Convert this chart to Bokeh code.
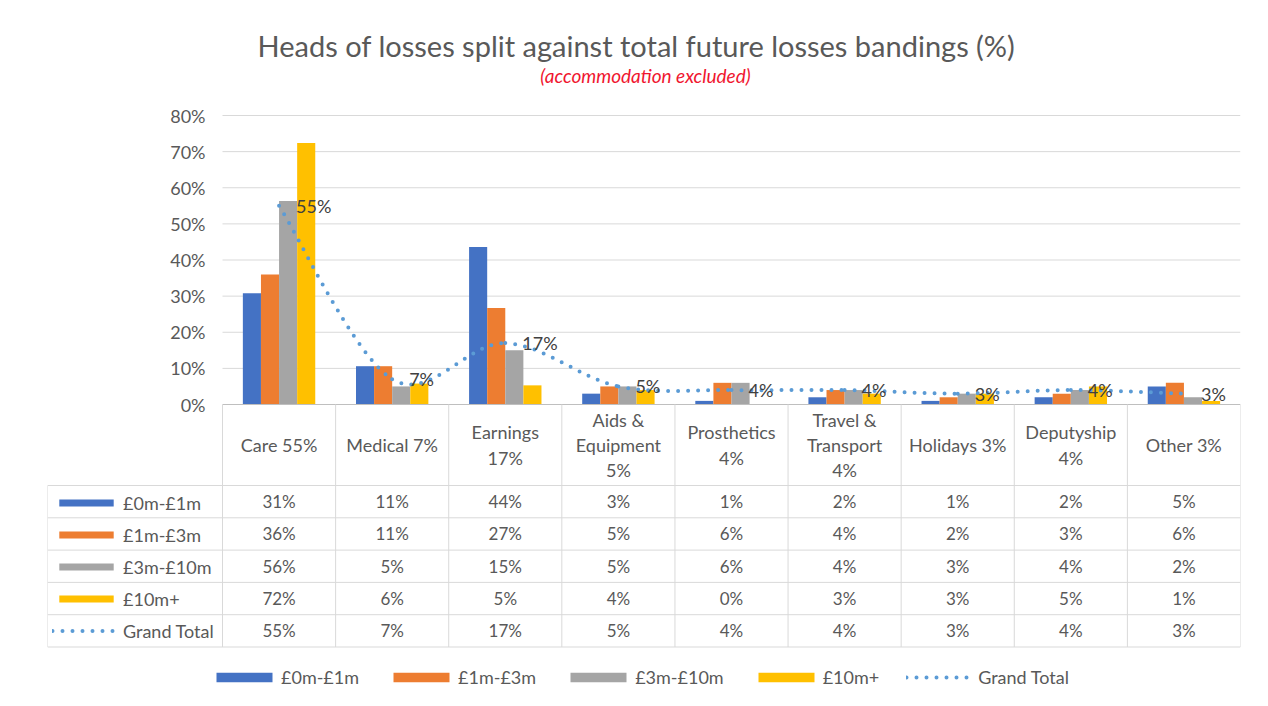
from bokeh.plotting import figure
from bokeh.models import (Range1d, LinearAxis, FixedTicker, PrintfTickFormatter,
                          Legend, LegendItem, Label)
from bokeh.core.properties import value
from bokeh.embed import file_html
from bokeh.resources import INLINE

# ---------------- data ----------------
categories = ["Care", "Medical", "Earnings", "Aids & Equipment", "Prosthetics",
              "Travel & Transport", "Holidays", "Deputyship", "Other"]
header_labels = ["Care 55%", "Medical 7%", "Earnings\n17%", "Aids &\nEquipment\n5%",
                 "Prosthetics\n4%", "Travel &\nTransport\n4%", "Holidays 3%",
                 "Deputyship\n4%", "Other 3%"]
series_names = ["£0m-£1m", "£1m-£3m", "£3m-£10m", "£10m+"]
band_0m_1m = [30.8, 10.6, 43.6, 3, 1, 2, 1, 2, 5]
band_1m_3m = [36.0, 10.6, 26.7, 5, 6, 4, 2, 3, 6]
band_3m_10m = [56.3, 5.0, 15.0, 5, 6, 4, 3, 4, 2]
band_10m_plus = [72.4, 5.8, 5.3, 4, 0, 3, 3, 5, 1]
grand_total = [55, 7, 17, 5, 4, 4, 3, 4, 3]
y_ticks = [0, 10, 20, 30, 40, 50, 60, 70, 80]

series = [band_0m_1m, band_1m_3m, band_3m_10m, band_10m_plus]
colors = ["#4472C4", "#ED7D31", "#A5A5A5", "#FFC000"]
line_color = "#5B9BD5"
txt = "#595959"
grid_c = "#D9D9D9"
FONT = "Lato"

# ---------------- layout geometry (canvas px) ----------------
W, H = 1268, 706
frame_left, frame_right, frame_top, frame_bottom = 47, 1240, 0, 706
plot_left, plot_top = 222, 115
zero_y = 404
px_per_pct = (zero_y - plot_top) / 80.0
px_per_cat = (frame_right - plot_left) / 9.0
n = len(categories)
xs = list(range(n))

x_start = -0.5 - (plot_left - frame_left) / px_per_cat
y_start = -(frame_bottom - zero_y) / px_per_pct
y_end = (zero_y - frame_top) / px_per_pct

p = figure(width=W, height=H, output_backend="svg", toolbar_location=None,
           x_range=Range1d(x_start, n - 0.5), y_range=Range1d(y_start, y_end),
           x_axis_location=None, y_axis_location=None,
           min_border_left=frame_left, min_border_right=W - frame_right,
           min_border_top=frame_top, min_border_bottom=0)
p.outline_line_color = None
p.grid.visible = False
p.extra_x_ranges = {"tx": Range1d(frame_left, frame_right)}
p.extra_y_ranges = {"ty": Range1d(frame_bottom, frame_top)}

# grid lines
gt = [t for t in y_ticks if t > 0]
p.segment(x0=[-0.5] * len(gt), x1=[n - 0.5] * len(gt), y0=gt, y1=gt,
          line_color=grid_c, line_width=1)

# y axis
yaxis = LinearAxis(fixed_location=-0.5, ticker=FixedTicker(ticks=y_ticks),
                   formatter=PrintfTickFormatter(format="%d%%"),
                   axis_line_color=None, major_tick_line_color=None,
                   minor_tick_line_color=None, major_label_standoff=11,
                   major_label_text_font=FONT, major_label_text_font_size="18px",
                   major_label_text_color=txt)
p.add_layout(yaxis, "left")

# bars
bw = 0.16
offsets = [-1.5 * bw, -0.5 * bw, 0.5 * bw, 1.5 * bw]
bar_renderers = []
for vals, col, off in zip(series, colors, offsets):
    r = p.vbar(x=[x + off for x in xs], top=vals, bottom=0, width=bw,
               fill_color=col, line_color=None)
    bar_renderers.append(r)

# smoothed grand total line (Excel-like bezier through the data points)
bx0, by0, bx1, by1, cx0, cy0, cx1, cy1 = ([] for _ in range(8))
for i in range(n - 1):
    i0, i3 = max(i - 1, 0), min(i + 2, n - 1)
    P0 = (xs[i0], grand_total[i0]); P1 = (xs[i], grand_total[i])
    P2 = (xs[i + 1], grand_total[i + 1]); P3 = (xs[i3], grand_total[i3])
    bx0.append(P1[0]); by0.append(P1[1]); bx1.append(P2[0]); by1.append(P2[1])
    cx0.append(P1[0] + (P2[0] - P0[0]) / 6); cy0.append(P1[1] + (P2[1] - P0[1]) / 6)
    cx1.append(P2[0] - (P3[0] - P1[0]) / 6); cy1.append(P2[1] - (P3[1] - P1[1]) / 6)
line_r = p.bezier(x0=bx0, y0=by0, x1=bx1, y1=by1, cx0=cx0, cy0=cy0, cx1=cx1, cy1=cy1,
                  line_color=line_color, line_width=4, line_dash="0 10",
                  line_cap="round")

# data labels
p.text(x=xs, y=grand_total, text=[f"{v}%" for v in grand_total], x_offset=17,
       text_align="left", text_baseline="middle", text_font=value(FONT),
       text_font_size="18px", text_color="#404040")

# ---------------- data table ----------------
header_top, header_bottom = zero_y, 485
row_h = 32.3
row_edges = [header_bottom + k * row_h for k in range(6)]
# horizontal lines
p.segment(x0=[plot_left], x1=[frame_right], y0=[header_top], y1=[header_top],
          x_range_name="tx", y_range_name="ty", line_color="#BFBFBF", line_width=1)
p.segment(x0=[frame_left] * 6, x1=[frame_right] * 6, y0=row_edges, y1=row_edges,
          x_range_name="tx", y_range_name="ty", line_color=grid_c, line_width=1)
# vertical lines
p.segment(x0=[plot_left + k * px_per_cat for k in range(n + 1)],
          x1=[plot_left + k * px_per_cat for k in range(n + 1)],
          y0=[header_top] * (n + 1), y1=[row_edges[-1]] * (n + 1),
          x_range_name="tx", y_range_name="ty", line_color=grid_c, line_width=1)
p.segment(x0=[frame_left], x1=[frame_left], y0=[header_bottom], y1=[row_edges[-1]],
          x_range_name="tx", y_range_name="ty", line_color=grid_c, line_width=1)

# header labels
p.text(x=xs, y=[(header_top + header_bottom) / 2] * n, text=header_labels,
       y_range_name="ty", text_align="center", text_baseline="middle",
       text_font=value(FONT), text_font_size="18px", text_color=txt,
       text_line_height=1.15)
# cell values
for k, vals in enumerate(series + [grand_total]):
    yc = row_edges[k] + row_h / 2
    p.text(x=xs, y=[yc] * n, text=[f"{round(v)}%" for v in vals], y_range_name="ty",
           text_align="center", text_baseline="middle", text_font=value(FONT),
           text_font_size="17px", text_color=txt)

# legend keys in table
names = series_names + ["Grand Total"]
rends = bar_renderers + [line_r]
leg_tbl = Legend(items=[LegendItem(label=nm, renderers=[r]) for nm, r in zip(names, rends)],
                 orientation="vertical", location=(5, frame_bottom - row_edges[-1]),
                 glyph_width=68, glyph_height=9, label_standoff=3, label_height=32,
                 spacing=0, padding=0, margin=0, border_line_color=None,
                 background_fill_alpha=0, label_text_font=FONT,
                 label_text_font_size="18px", label_text_color=txt)
p.add_layout(leg_tbl)

# bottom legend
leg_bot = Legend(items=[LegendItem(label=nm, renderers=[r]) for nm, r in zip(names, rends)],
                 orientation="horizontal", location=(209 - frame_left, 18),
                 glyph_width=70, glyph_height=12, label_standoff=2, spacing=27,
                 padding=0, margin=0, border_line_color=None, background_fill_alpha=0,
                 label_text_font=FONT, label_text_font_size="18px",
                 label_text_color=txt)
p.add_layout(leg_bot)

# titles
p.add_layout(Label(x=636, y=45, x_range_name="tx", y_range_name="ty",
                   text="Heads of losses split against total future losses bandings (%)",
                   text_align="center", text_baseline="middle", text_font=FONT,
                   text_font_size="29px", text_color=txt))
p.add_layout(Label(x=645, y=75, x_range_name="tx", y_range_name="ty",
                   text="(accommodation excluded)", text_align="center",
                   text_baseline="middle", text_font=FONT, text_font_size="19px",
                   text_font_style="italic", text_color="#F0162F"))

open("out.html", "w").write(file_html(p, INLINE))
